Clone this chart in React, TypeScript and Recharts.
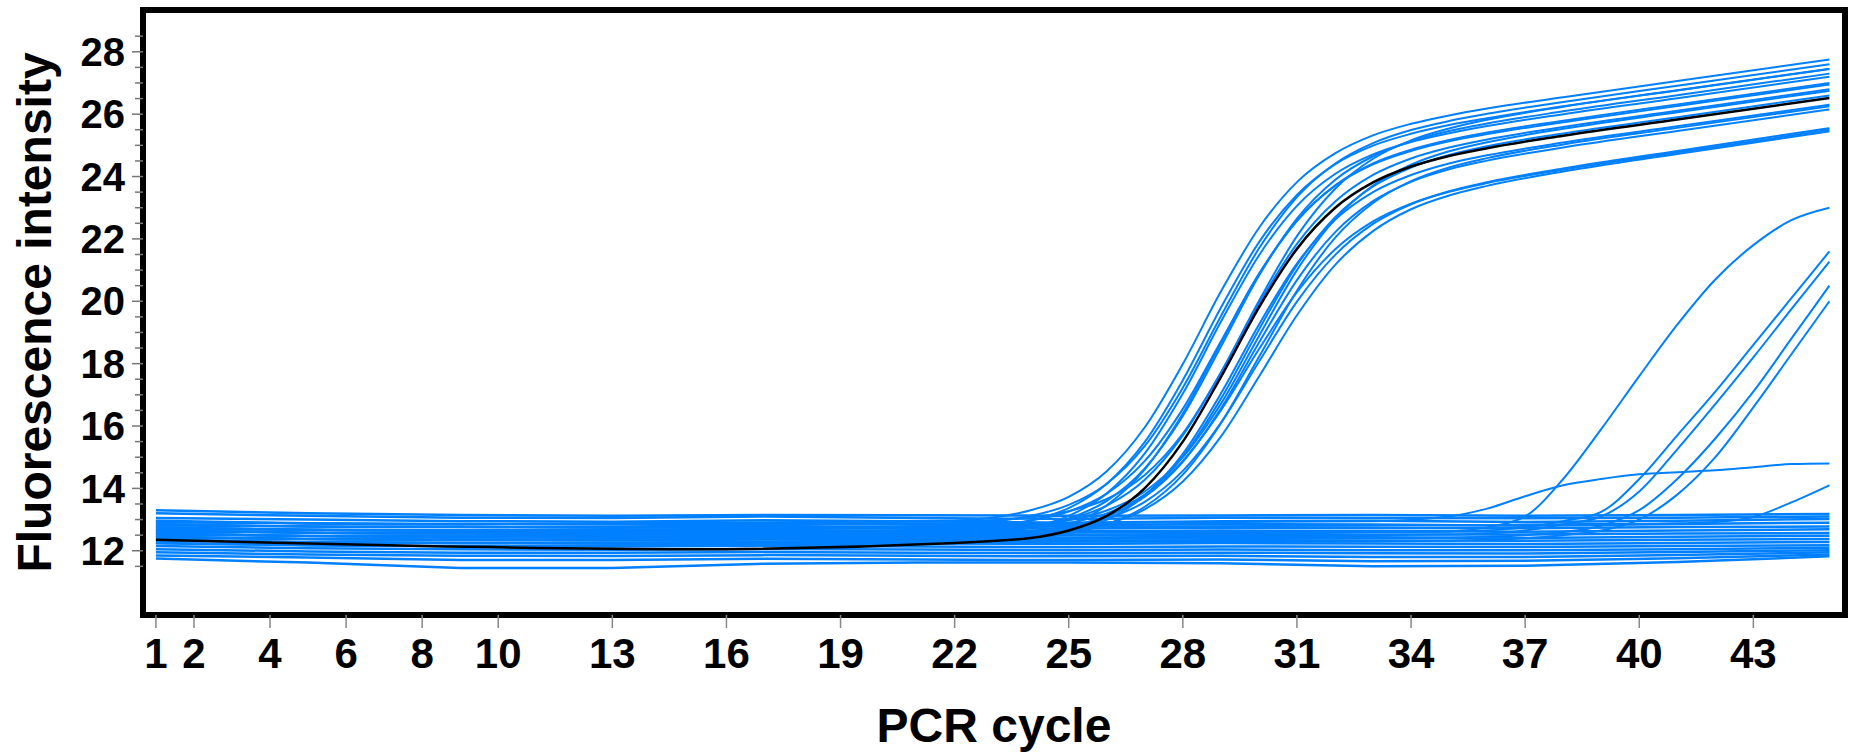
import React from 'react';
import { LineChart, Line, XAxis, YAxis, ReferenceArea } from 'recharts';

const FONT = '"Liberation Sans", Arial, Helvetica, sans-serif';
const BLUE = '#0080ff';

// x positions (PCR cycle) for each group of wells
const ampCycles = [1, 8, 15, 22, 24, 25, 26, 27, 28, 29, 30, 31, 32, 33, 34, 35, 36, 38, 41, 45];
const lateCycles = [1, 12, 24, 33, 35, 36, 37, 38, 39, 40, 41, 42, 43, 44, 45];
const baseCycles = [1, 5, 9, 13, 17, 21, 25, 29, 33, 37, 41, 45];

// positive wells (main cluster)
const amplifiedWells = [
  [12.95, 12.85, 12.9, 12.97, 13.3, 13.73, 14.55, 15.96, 17.99, 20.31, 22.35, 23.82, 24.74, 25.32, 25.69, 25.96, 26.18, 26.54, 27.06, 27.75],
  [12.65, 12.55, 12.6, 12.68, 12.97, 13.37, 14.15, 15.49, 17.47, 19.79, 21.89, 23.41, 24.39, 24.99, 25.37, 25.65, 25.87, 26.25, 26.77, 27.45],
  [12.45, 12.35, 12.4, 12.48, 12.75, 13.12, 13.84, 15.12, 17.04, 19.34, 21.47, 23.06, 24.08, 24.71, 25.11, 25.39, 25.62, 26.0, 26.51, 27.2],
  [12.85, 12.75, 12.8, 12.87, 13.12, 13.47, 14.15, 15.36, 17.23, 19.52, 21.69, 23.34, 24.41, 25.07, 25.49, 25.78, 26.01, 26.39, 26.91, 27.6],
  [12.25, 12.15, 12.2, 12.27, 12.5, 12.82, 13.46, 14.61, 16.4, 18.66, 20.87, 22.58, 23.7, 24.39, 24.82, 25.13, 25.36, 25.74, 26.26, 26.95],
  [12.75, 12.65, 12.7, 12.76, 12.97, 13.26, 13.83, 14.88, 16.55, 18.71, 20.87, 22.58, 23.71, 24.42, 24.86, 25.17, 25.41, 25.79, 26.31, 27.0],
  [12.55, 12.45, 12.5, 12.56, 12.76, 13.04, 13.6, 14.64, 16.32, 18.54, 20.82, 22.65, 23.89, 24.65, 25.13, 25.46, 25.7, 26.09, 26.61, 27.3],
  [12.65, 12.55, 12.6, 12.64, 12.8, 13.01, 13.45, 14.28, 15.7, 17.7, 19.92, 21.84, 23.19, 24.05, 24.58, 24.93, 25.19, 25.59, 26.11, 26.8],
  [12.25, 12.15, 12.18, 12.24, 12.38, 12.58, 12.99, 13.77, 15.11, 17.04, 19.25, 21.21, 22.61, 23.5, 24.05, 24.42, 24.68, 25.09, 25.61, 26.3],
  [12.95, 12.85, 12.88, 12.94, 13.07, 13.27, 13.66, 14.43, 15.76, 17.72, 20.01, 22.09, 23.6, 24.57, 25.16, 25.54, 25.82, 26.24, 26.76, 27.45],
  [12.45, 12.35, 12.38, 12.43, 12.56, 12.73, 13.09, 13.79, 15.02, 16.87, 19.09, 21.16, 22.69, 23.68, 24.29, 24.69, 24.97, 25.38, 25.9, 26.6],
  [12.55, 12.45, 12.48, 12.53, 12.64, 12.79, 13.11, 13.73, 14.85, 16.56, 18.67, 20.68, 22.21, 23.21, 23.83, 24.23, 24.51, 24.93, 25.46, 26.15],
  [12.75, 12.65, 12.68, 12.73, 12.83, 12.98, 13.29, 13.9, 15.0, 16.71, 18.88, 21.0, 22.63, 23.71, 24.38, 24.81, 25.1, 25.53, 26.06, 26.75],
  [12.35, 12.25, 12.28, 12.33, 12.42, 12.56, 12.85, 13.41, 14.44, 16.09, 18.21, 20.34, 22.03, 23.15, 23.85, 24.29, 24.59, 25.03, 25.56, 26.25],
];

// positive wells with the lower plateau
const lowPlateauWells = [
  [12.55, 12.45, 12.48, 12.53, 12.62, 12.75, 13.03, 13.57, 14.56, 16.1, 18.06, 19.99, 21.48, 22.48, 23.11, 23.53, 23.82, 24.26, 24.82, 25.55],
  [12.45, 12.35, 12.38, 12.42, 12.5, 12.62, 12.86, 13.33, 14.22, 15.66, 17.58, 19.55, 21.16, 22.25, 22.95, 23.39, 23.7, 24.16, 24.72, 25.45],
  [12.65, 12.55, 12.58, 12.63, 12.73, 12.89, 13.2, 13.8, 14.88, 16.5, 18.46, 20.29, 21.66, 22.56, 23.13, 23.51, 23.79, 24.22, 24.77, 25.5],
];

// highlighted well (black)
const controlWell = [12.35, 12.15, 12.05, 12.25, 12.41, 12.65, 13.12, 14.01, 15.5, 17.57, 19.8, 21.68, 22.99, 23.81, 24.32, 24.66, 24.91, 25.31, 25.83, 26.52];

// wells that rise late
const lateWells = [
  [12.7, 12.6, 12.65, 12.6, 12.62, 12.75, 13.1, 14.3, 15.9, 17.6, 19.25, 20.7, 21.8, 22.6, 23.0],
  [12.9, 12.85, 12.88, 12.95, 13.1, 13.35, 13.75, 14.1, 14.3, 14.45, 14.52, 14.58, 14.68, 14.78, 14.8],
  [12.8, 12.75, 12.78, 12.8, 12.82, 12.82, 12.84, 12.85, 12.86, 12.86, 12.88, 12.92, 13.08, 13.55, 14.1],
  [12.6, 12.55, 12.58, 12.6, 12.62, 12.65, 12.75, 12.95, 13.25, 14.3, 15.7, 17.1, 18.6, 20.1, 21.6],
  [12.5, 12.45, 12.48, 12.5, 12.52, 12.55, 12.65, 12.85, 13.1, 13.9, 15.25, 16.7, 18.2, 19.75, 21.27],
  [12.4, 12.35, 12.38, 12.4, 12.42, 12.45, 12.5, 12.6, 12.8, 13.3, 14.3, 15.6, 17.1, 18.8, 20.5],
  [12.3, 12.25, 12.28, 12.3, 12.32, 12.35, 12.4, 12.5, 12.65, 13.0, 13.8, 15.0, 16.6, 18.3, 20.0],
];

// negative wells (flat band)
const baselineWells = [
  [13.3, 13.2, 13.15, 13.12, 13.15, 13.14, 13.12, 13.13, 13.15, 13.12, 13.15, 13.18],
  [13.2, 13.12, 13.06, 13.05, 13.1, 13.05, 13.02, 13.06, 13.05, 13.04, 13.06, 13.1],
  [13.05, 13.0, 12.95, 12.93, 12.98, 12.95, 12.9, 12.95, 12.96, 12.92, 12.96, 13.02],
  [12.96, 12.88, 12.84, 12.86, 12.88, 12.83, 12.82, 12.86, 12.84, 12.8, 12.86, 12.9],
  [12.85, 12.78, 12.76, 12.74, 12.77, 12.74, 12.71, 12.74, 12.73, 12.72, 12.76, 12.78],
  [12.74, 12.68, 12.65, 12.64, 12.66, 12.63, 12.62, 12.65, 12.63, 12.61, 12.65, 12.69],
  [12.66, 12.58, 12.55, 12.53, 12.56, 12.54, 12.51, 12.54, 12.52, 12.52, 12.55, 12.57],
  [12.55, 12.47, 12.46, 12.44, 12.46, 12.43, 12.42, 12.45, 12.43, 12.41, 12.45, 12.48],
  [12.45, 12.38, 12.35, 12.33, 12.36, 12.34, 12.32, 12.34, 12.33, 12.32, 12.35, 12.38],
  [12.35, 12.28, 12.25, 12.24, 12.26, 12.23, 12.22, 12.25, 12.23, 12.22, 12.25, 12.28],
  [12.24, 12.18, 12.15, 12.14, 12.16, 12.14, 12.11, 12.14, 12.13, 12.12, 12.15, 12.18],
  [12.15, 12.08, 12.05, 12.03, 12.06, 12.04, 12.02, 12.04, 12.02, 12.02, 12.05, 12.1],
  [12.05, 11.98, 11.94, 11.94, 11.96, 11.94, 11.92, 11.94, 11.92, 11.91, 11.96, 12.02],
  [11.95, 11.88, 11.84, 11.83, 11.86, 11.84, 11.82, 11.84, 11.8, 11.8, 11.86, 11.95],
  [11.85, 11.78, 11.7, 11.7, 11.74, 11.72, 11.7, 11.72, 11.66, 11.68, 11.76, 11.88],
  [11.75, 11.62, 11.45, 11.45, 11.58, 11.62, 11.62, 11.6, 11.5, 11.52, 11.64, 11.82],
];

const xTickLabels = [1, 2, 4, 6, 8, 10, 13, 16, 19, 22, 25, 28, 31, 34, 37, 40, 43];
const yTickLabels = [12, 14, 16, 18, 20, 22, 24, 26, 28];
const yMinorTicks = Array.from({ length: 35 }, (_, i) => 11.5 + i * 0.5);

const X_DOMAIN: [number, number] = [0.66, 45.41];
const Y_DOMAIN: [number, number] = [9.94, 29.34];

const toPoints = (cycles: number[], values: number[]) =>
  cycles.map((c, i) => ({ cycle: c, value: values[i] }));

const YTick = (props: any) => {
  const { x, y, payload } = props;
  const major = yTickLabels.includes(payload.value);
  return (
    <g>
      <line x1={x - (major ? 11 : 8)} x2={x} y1={y} y2={y} stroke="#777" strokeWidth={1.5} />
      {major && (
        <text
          x={x - 18}
          y={y}
          dy="0.355em"
          textAnchor="end"
          fontSize={40}
          fontWeight={700}
          fontFamily={FONT}
          fill="#000"
        >
          {payload.value}
        </text>
      )}
    </g>
  );
};

const App = () => {
  return (
    <div style={{ position: 'absolute', left: 0, top: 0, width: 1852, height: 754, background: '#fff' }}>
      <LineChart width={1852} height={754} margin={{ top: 10, right: 7, bottom: 0, left: 0 }}>
        <XAxis
          dataKey="cycle"
          type="number"
          domain={X_DOMAIN}
          ticks={xTickLabels}
          interval={0}
          height={139}
          axisLine={false}
          tickSize={13}
          tickMargin={10}
          tickLine={{ stroke: '#888', strokeWidth: 1.5 }}
          tick={{ fill: '#000', fontSize: 42, fontWeight: 700, fontFamily: FONT }}
          label={{
            value: 'PCR cycle',
            position: 'insideBottom',
            offset: 12,
            style: { fill: '#000', fontSize: 48, fontWeight: 700, fontFamily: FONT },
          }}
        />
        <YAxis
          type="number"
          domain={Y_DOMAIN}
          ticks={yMinorTicks}
          interval={0}
          width={143}
          axisLine={false}
          tickLine={false}
          tickSize={0}
          tickMargin={0}
          tick={<YTick />}
          label={{
            value: 'Fluorescence intensity',
            angle: -90,
            position: 'insideLeft',
            offset: 34,
            style: { fill: '#000', fontSize: 48, fontWeight: 700, fontFamily: FONT, textAnchor: 'middle' },
          }}
        />
        <ReferenceArea
          x1={X_DOMAIN[0]}
          x2={X_DOMAIN[1]}
          y1={Y_DOMAIN[0]}
          y2={Y_DOMAIN[1]}
          fill="none"
          stroke="#000"
          strokeWidth={6}
          ifOverflow="visible"
        />
        {baselineWells.map((w, i) => (
          <Line
            key={`base-${i}`}
            data={toPoints(baseCycles, w)}
            dataKey="value"
            type="linear"
            stroke={BLUE}
            strokeWidth={2.5}
            dot={false}
            activeDot={false}
            isAnimationActive={false}
          />
        ))}
        {lateWells.map((w, i) => (
          <Line
            key={`late-${i}`}
            data={toPoints(lateCycles, w)}
            dataKey="value"
            type="monotone"
            stroke={BLUE}
            strokeWidth={2}
            dot={false}
            activeDot={false}
            isAnimationActive={false}
          />
        ))}
        {[...lowPlateauWells, ...amplifiedWells].map((w, i) => (
          <Line
            key={`amp-${i}`}
            data={toPoints(ampCycles, w)}
            dataKey="value"
            type="monotone"
            stroke={BLUE}
            strokeWidth={2}
            dot={false}
            activeDot={false}
            isAnimationActive={false}
          />
        ))}
        <Line
          data={toPoints(ampCycles, controlWell)}
          dataKey="value"
          type="monotone"
          stroke="#000"
          strokeWidth={2.5}
          dot={false}
          activeDot={false}
          isAnimationActive={false}
        />
      </LineChart>
    </div>
  );
};

export default App;
